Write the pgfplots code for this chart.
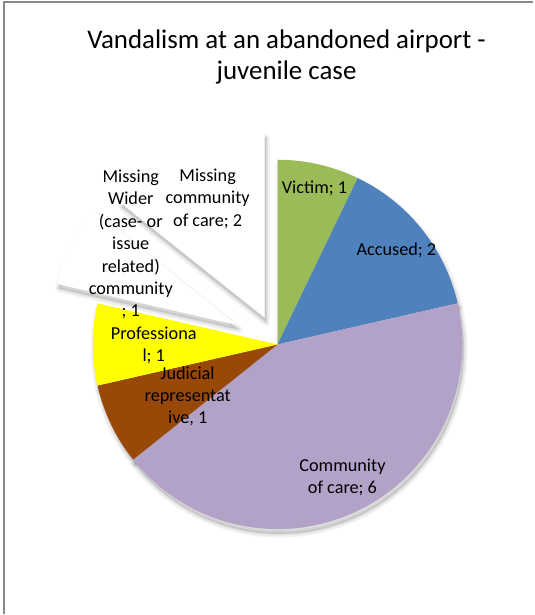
\documentclass[border=0pt]{standalone}
\usepackage{fontspec}
\setmainfont{Carlito}
\usepackage{pgfplots}
\usepackage{pgfplotstable}
\pgfplotsset{compat=1.18}

\definecolor{victim}{HTML}{9BBB59}
\definecolor{accused}{HTML}{4F81BD}
\definecolor{community}{HTML}{B2A2C7}
\definecolor{judicial}{HTML}{984807}
\definecolor{professional}{HTML}{FFFF00}
\definecolor{framegray}{HTML}{888888}
\colorlet{slice0}{victim}
\colorlet{slice1}{accused}
\colorlet{slice2}{community}
\colorlet{slice3}{judicial}
\colorlet{slice4}{professional}
\colorlet{slice5}{white}
\colorlet{slice6}{white}

% value = slice size, explode = offset of the slice in px
\pgfplotstableread{
label value explode
Victim 1 0
Accused 2 0
Community 6 0
Judicial 1 0
Professional 1 0
MissingWider 1 45
MissingCare 2 30
}\piedata

\newcommand{\R}{138.75pt}% 185 px
\newcommand{\slicepath}[2]{(axis cs:278,345)
  ++(canvas polar cs:angle=\csname slmid#1\endcsname, radius=\csname slexp#1\endcsname)
  ++#2
  -- ++(canvas polar cs:angle=\csname slstart#1\endcsname, radius=\R)
  arc[start angle=\csname slstart#1\endcsname, end angle=\csname slend#1\endcsname, radius=\R]
  -- cycle}
\newcommand{\pieshadow}[1]{%
  \fill[black, opacity=0.12] \slicepath{#1}{(canvas polar cs:angle=-70,radius=3.8pt)};
  \draw[black, opacity=0.05, line width=5.5pt, line join=round] \slicepath{#1}{(canvas polar cs:angle=-70,radius=3.8pt)};
  \draw[black, opacity=0.07, line width=2.5pt, line join=round] \slicepath{#1}{(canvas polar cs:angle=-70,radius=3.8pt)};
}

\begin{document}
\begin{tikzpicture}
% angles of the slices, clockwise from the top
\pgfplotstablegetrowsof{\piedata}
\pgfmathtruncatemacro\lastrow{\pgfplotsretval-1}
\gdef\pietotal{0}
\foreach \i in {0,...,\lastrow}{%
  \pgfplotstablegetelem{\i}{value}\of\piedata
  \pgfmathsetmacro\tmp{\pietotal+\pgfplotsretval}%
  \xdef\pietotal{\tmp}}
\gdef\piecur{90}
\foreach \i in {0,...,\lastrow}{%
  \pgfplotstablegetelem{\i}{value}\of\piedata
  \pgfmathsetmacro\tmpend{\piecur-\pgfplotsretval*360/\pietotal}%
  \pgfmathsetmacro\tmpmid{(\piecur+\tmpend)/2}%
  \pgfplotstablegetelem{\i}{explode}\of\piedata
  \pgfmathsetmacro\tmpexp{\pgfplotsretval*0.75}%
  \expandafter\xdef\csname slstart\i\endcsname{\piecur}%
  \expandafter\xdef\csname slend\i\endcsname{\tmpend}%
  \expandafter\xdef\csname slmid\i\endcsname{\tmpmid}%
  \expandafter\xdef\csname slexp\i\endcsname{\tmpexp pt}%
  \xdef\piecur{\tmpend}}

\begin{axis}[
  x=0.75pt, y=0.75pt,
  xmin=0, xmax=534, ymin=0, ymax=615,
  y dir=reverse,
  hide axis, clip=false,
]
\path (axis cs:0,0) rectangle (axis cs:534,615);
\draw[framegray, line width=1.5pt] (axis cs:4,615) -- (axis cs:4,2) -- (axis cs:534,2);

\node[font=\fontsize{20.2}{23}\selectfont, align=center, inner sep=0pt]
  at (axis cs:287,57) {Vandalism at an abandoned airport -\\juvenile case};

\pgfplotsinvokeforeach{0,...,\lastrow}{\pieshadow{#1}}
\pgfplotsinvokeforeach{0,...,\lastrow}{%
  \fill[slice#1] \slicepath{#1}{(canvas cs:x=0pt,y=0pt)};}

\tikzset{lbl/.style={font=\fontsize{13.7}{16.8}\selectfont, align=center, inner sep=0pt}}
\node[lbl] at (axis cs:315,189) {Victim; 1};
\node[lbl] at (axis cs:397,251) {Accused; 2};
\node[lbl] at (axis cs:343,478) {Community\\of care; 6};
\node[lbl] at (axis cs:188,397) {Judicial\\representat\\ive, 1};
\node[lbl] at (axis cs:154,346) {Professiona\\l; 1};
\node[lbl] at (axis cs:131,245) {Missing\\Wider\\(case- or\\issue\\related)\\community\\; 1};
\node[lbl] at (axis cs:208,199) {Missing\\community\\of care; 2};
\end{axis}
\end{tikzpicture}
\end{document}
